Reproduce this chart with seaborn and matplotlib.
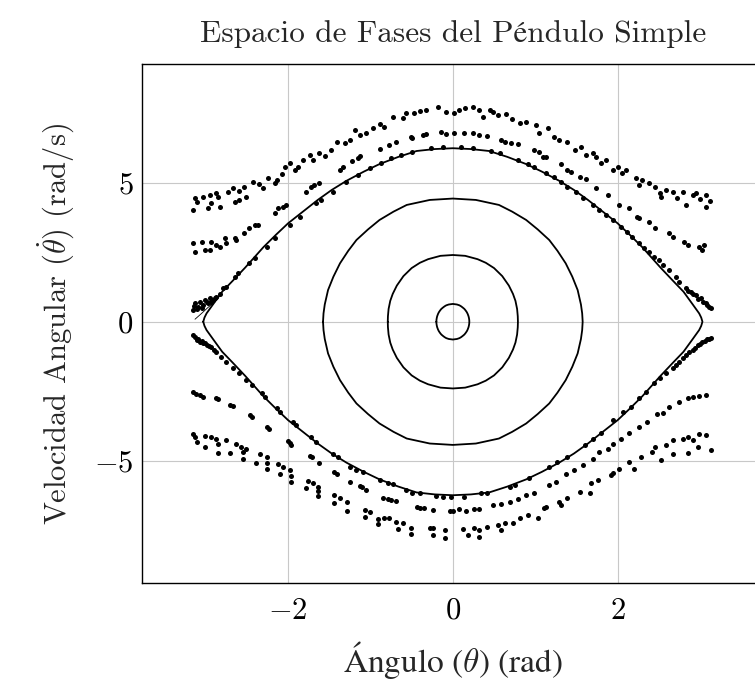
import matplotlib
matplotlib.use("Agg")
import matplotlib.pyplot as plt
import seaborn as sns
import pandas as pd

# ---------------- data ----------------
# closed (oscillating) orbits: quarter curves theta>=0, omega>=0 (orbits are symmetric)
orbit_small_theta = [0.0, 0.05, 0.08, 0.10, 0.12, 0.14, 0.155, 0.17, 0.18, 0.19, 0.195, 0.199, 0.20]
orbit_small_omega = [0.64, 0.62, 0.59, 0.555, 0.51, 0.46, 0.405, 0.34, 0.28, 0.20, 0.14, 0.065, 0.0]

orbit_mid_theta = [0.0, 0.15, 0.30, 0.40, 0.50, 0.60, 0.68, 0.73, 0.76, 0.78, 0.788, 0.79]
orbit_mid_omega = [2.40, 2.37, 2.25, 2.12, 1.93, 1.64, 1.30, 1.00, 0.75, 0.46, 0.20, 0.0]

orbit_large_theta = [0.0, 0.28, 0.56, 0.72, 0.89, 1.03, 1.17, 1.27, 1.37, 1.45, 1.515, 1.555, 1.57, 1.576]
orbit_large_omega = [4.43, 4.38, 4.20, 3.96, 3.66, 3.32, 2.94, 2.55, 2.10, 1.62, 1.14, 0.62, 0.30, 0.0]

orbit_outer_theta = [0.0, 0.22, 0.44, 0.66, 0.89, 1.08, 1.29, 1.47, 1.64, 1.82, 2.0, 2.15, 2.3, 2.52,
                     2.67, 2.8, 2.91, 2.99, 3.015, 3.03]
orbit_outer_omega = [6.24, 6.21, 6.14, 5.93, 5.67, 5.40, 5.07, 4.74, 4.38, 3.96, 3.54, 3.12, 2.68, 1.95,
                     1.48, 1.08, 0.63, 0.30, 0.15, 0.0]

tail_theta = [-3.13, -3.05, -2.97, -2.91, -2.85]
tail_omega = [0.09, 0.30, 0.52, 0.66, 0.85]

# rotating orbits (sampled points), upper half-plane
top_upper_theta = [-3.15, -3.13, -3.03, -2.95, -2.97, -2.93, -2.83, -2.85, -2.73, -2.67, -2.65, -2.59, -2.51,
                   -2.53, -2.42, -2.30, -2.24, -2.16, -2.14, -2.04, -1.98, -1.92, -1.82, -1.74, -1.70, -1.62,
                   -1.48, -1.41, -1.31, -1.19, -1.13, -0.97, -0.83, -0.73, -0.61, -0.57, -0.47, -0.32, -0.18,
                   -0.08, 0.02, 0.08, 0.24, 0.32, 0.36, 0.49, 0.55, 0.65, 0.81, 0.89, 1.01, 1.05, 1.23, 1.29,
                   1.39, 1.48, 1.62, 1.70, 1.74, 1.86, 1.94, 2.00, 2.10, 2.22, 2.26, 2.30, 2.38, 2.51, 2.53,
                   2.59, 2.67, 2.79, 2.83, 2.91, 2.95, 3.07, 3.07,
                   -3.10, -2.88, -2.60, -2.35, -2.08, -1.88, -1.55, -1.25, -1.05, -0.88, -0.40, 0.15, 0.45,
                   0.72, 1.15, 1.55, 1.80, 2.05, 2.45, 2.72, 3.00, 3.12]
top_upper_omega = [4.02, 4.44, 4.50, 4.56, 4.08, 4.26, 4.14, 4.50, 4.68, 4.80, 4.32, 4.38, 4.50,
                   4.86, 5.04, 4.80, 5.16, 4.98, 5.10, 5.58, 5.70, 5.46, 5.82, 6.00, 5.82, 6.06,
                   6.18, 6.48, 6.42, 6.90, 6.72, 6.96, 7.02, 7.38, 7.32, 7.50, 7.50, 7.62, 7.74,
                   7.56, 7.50, 7.62, 7.74, 7.62, 7.38, 7.56, 7.44, 7.47, 7.14, 7.20, 7.08, 6.78, 6.66, 6.54,
                   6.48, 6.18, 6.00, 6.06, 5.94, 5.82, 5.46, 5.58, 5.46, 5.16, 4.92, 5.10, 4.98, 4.62, 4.50,
                   4.74, 4.68, 4.68, 4.20, 4.56, 4.62, 4.56, 4.14,
                   4.30, 4.62, 4.70, 4.95, 5.30, 5.55, 5.95, 6.55, 6.80, 7.10, 7.58, 7.70, 7.62,
                   7.30, 6.95, 6.30, 5.70, 5.35, 4.85, 4.45, 4.40, 4.35]

mid_upper_theta = [-3.15, -3.13, -3.05, -3.01, -2.95, -2.93, -2.87, -2.83, -2.77, -2.75, -2.65, -2.63, -2.53,
                   -2.48, -2.40, -2.36, -2.16, -2.12, -2.06, -2.02, -1.78, -1.72, -1.68, -1.62, -1.37, -1.33,
                   -1.23, -1.15, -1.13, -0.89, -0.77, -0.69, -0.51, -0.49, -0.36, -0.32, -0.14, -0.08, 0.02,
                   0.14, 0.24, 0.32, 0.42, 0.59, 0.63, 0.71, 0.79, 0.99, 1.05, 1.09, 1.13, 1.31, 1.39, 1.43,
                   1.54, 1.62, 1.74, 1.88, 2.02, 2.14, 2.24, 2.26, 2.38, 2.46, 2.63, 2.67, 2.81, 2.85, 2.99,
                   3.05, 3.03]
mid_upper_omega = [2.82, 2.52, 2.88, 2.58, 2.58, 2.88, 2.76, 2.70, 3.00, 2.82, 3.00, 2.94, 3.18,
                   3.36, 3.48, 3.48, 3.90, 4.08, 4.14, 4.20, 4.68, 4.86, 4.92, 5.00, 5.46, 5.55,
                   5.79, 5.88, 5.96, 6.20, 6.36, 6.48, 6.66, 6.60, 6.72, 6.74, 6.84, 6.75, 6.78,
                   6.78, 6.80, 6.72, 6.69, 6.54, 6.48, 6.42, 6.39, 6.18, 6.12, 5.94, 5.94, 5.67, 5.46, 5.40,
                   5.19, 5.12, 4.80, 4.56, 4.20, 4.08, 3.78, 3.72, 3.60, 3.36, 3.18, 3.06, 2.88, 2.76, 2.70,
                   2.76, 2.58]

low_upper_theta = [-3.15, -3.13, -3.09, -3.07, -3.03, -3.01, -2.97, -2.95, -2.91, -2.87, -2.83,
                   -3.14, -3.11, -3.05, -2.99, -2.93, -2.89,
                   -2.79, -2.75, -2.65, -2.61, -2.47, -2.40, -2.26, -2.16, -1.98, -1.86, -1.66, -1.60,
                   -1.46, -1.30, -1.15, -1.01, -0.87, -0.75, -0.63, -0.49, -0.26, -0.12,
                   0.10, 0.24, 0.46, 0.57, 0.79, 0.91, 0.99, 1.13, 1.23, 1.31, 1.39, 1.49, 1.58, 1.70,
                   1.78, 1.86, 1.94, 2.04, 2.12, 2.18, 2.26, 2.32, 2.38, 2.44, 2.50, 2.55, 2.63, 2.71,
                   2.75, 2.83, 2.89, 2.95, 3.01, 3.07, 3.11,
                   2.98, 3.04, 3.09, 3.13, 2.92, 2.86]
low_upper_omega = [0.42, 0.66, 0.54, 0.72, 0.60, 0.78, 0.66, 0.84, 0.78, 0.90, 1.00,
                   0.55, 0.45, 0.50, 0.70, 0.72, 0.85,
                   1.20, 1.26, 1.62, 1.74, 2.10, 2.28, 2.70, 3.00, 3.48, 3.78, 4.26, 4.38,
                   4.68, 5.04, 5.28, 5.52, 5.70, 5.88, 6.00, 6.12, 6.24, 6.30,
                   6.30, 6.24, 6.14, 6.06, 5.82, 5.67, 5.55, 5.34, 5.19, 5.04, 4.86, 4.68, 4.44, 4.20,
                   4.02, 3.84, 3.66, 3.42, 3.24, 3.06, 2.82, 2.64, 2.52, 2.34, 2.22, 2.04, 1.86, 1.62,
                   1.44, 1.20, 1.08, 0.96, 0.84, 0.66, 0.54,
                   0.80, 0.72, 0.60, 0.50, 0.98, 1.12]

# rotating orbits, lower half-plane
low_lower_theta = [-3.15, -3.11, -3.07, -3.03, -2.99, -2.93, -2.87, -2.81, -2.75, -2.67, -2.59, -2.51,
                   -2.44, -2.32, -2.28, -2.14, -2.10, -1.94, -1.90, -1.72, -1.66, -1.46, -1.39, -1.25,
                   -1.17, -1.09, -0.89, -0.79, -0.73, -0.57, -0.49, -0.40, -0.20, -0.12, -0.02,
                   -3.13, -3.09, -3.05, -3.01, -2.96, -2.90,
                   0.14, 0.34, 0.42, 0.69, 0.75, 0.93, 1.17, 1.27, 1.39, 1.60, 1.70, 1.80, 1.94, 2.06,
                   2.16, 2.26, 2.34, 2.44, 2.51, 2.59, 2.67, 2.75, 2.83, 2.91, 2.97, 3.03, 3.09, 3.13,
                   2.87, 2.94, 3.00, 3.06, 3.11, 2.79, 2.71]
low_lower_omega = [-0.48, -0.66, -0.72, -0.78, -0.84, -0.92, -1.08, -1.26, -1.44, -1.68, -1.86, -2.10,
                   -2.28, -2.58, -2.72, -3.12, -3.24, -3.60, -3.72, -4.14, -4.32, -4.74, -4.86, -5.21,
                   -5.33, -5.39, -5.69, -5.81, -5.85, -6.05, -6.15, -6.17, -6.27, -6.29, -6.29,
                   -0.55, -0.62, -0.70, -0.76, -0.86, -1.00,
                   -6.29, -6.17, -6.15, -5.93, -5.87, -5.63, -5.21, -5.03, -4.86, -4.44, -4.20, -3.99,
                   -3.54, -3.24, -3.06, -2.76, -2.52, -2.22, -2.04, -1.86, -1.68, -1.44, -1.20, -1.01,
                   -0.84, -0.72, -0.63, -0.60,
                   -1.10, -0.95, -0.80, -0.70, -0.62, -1.30, -1.55]

mid_lower_theta = [-3.15, -3.07, -3.03, -2.85, -2.67, -2.46, -2.26, -2.00, -1.96, -1.74, -1.62, -1.44,
                   -1.25, -1.13, -1.05, -0.85, -0.79, -0.69, -0.43, -0.35, -0.24, -0.04, 0.08,
                   -3.12, -2.88, -2.70, -2.44, -2.23, -1.98, -1.71, -1.41, -1.10, -0.75, -0.40, 0.00,
                   0.16, 0.26, 0.32, 0.49, 0.59, 0.69, 0.79, 0.89, 0.99, 1.17, 1.25, 1.37, 1.47, 1.58,
                   1.70, 1.78, 1.88, 1.94, 2.04, 2.14, 2.26, 2.36, 2.48, 2.55, 2.63, 2.75, 2.85, 2.91,
                   2.99, 3.07]
mid_lower_omega = [-2.52, -2.64, -2.72, -2.79, -3.03, -3.36, -3.78, -4.28, -4.44, -4.82, -5.09, -5.42,
                   -5.75, -5.91, -6.05, -6.33, -6.38, -6.44, -6.68, -6.71, -6.77, -6.81, -6.75,
                   -2.60, -2.75, -2.98, -3.42, -3.84, -4.36, -4.88, -5.47, -5.96, -6.42, -6.70, -6.80,
                   -6.81, -6.75, -6.75, -6.59, -6.56, -6.50, -6.39, -6.23, -6.15, -5.87, -5.75, -5.48,
                   -5.33, -5.15, -4.95, -4.68, -4.59, -4.40, -4.20, -3.99, -3.80, -3.60, -3.32, -3.30,
                   -3.06, -2.88, -2.76, -2.72, -2.67, -2.64]

top_lower_theta = [-3.15, -3.13, -3.11, -3.01, -3.01, -2.93, -2.87, -2.85, -2.85, -2.75, -2.71, -2.63,
                   -2.57, -2.55, -2.55, -2.51, -2.39, -2.34, -2.26, -2.26, -2.26, -2.12, -2.10, -2.06,
                   -1.98, -1.96, -1.96, -1.78, -1.76, -1.70, -1.64, -1.64, -1.64, -1.44, -1.44, -1.37,
                   -1.29, -1.29, -1.07, -1.07, -1.01, -0.91, -0.91, -0.83, -0.77, -0.69, -0.67, -0.61,
                   -0.51, -0.51, -0.28, -0.24, -0.24, -0.10, -0.10,
                   0.12, 0.18, 0.26, 0.32, 0.32, 0.42, 0.55, 0.59, 0.63, 0.73, 0.81, 0.91, 1.03, 1.11,
                   1.13, 1.29, 1.31, 1.39, 1.54, 1.66, 1.68, 1.76, 1.92, 1.94, 2.02, 2.14, 2.20, 2.28,
                   2.42, 2.46, 2.53, 2.59, 2.67, 2.67, 2.79, 2.85, 2.85, 2.91, 2.97, 2.99, 3.07, 3.13]
top_lower_omega = [-4.02, -4.14, -4.32, -4.11, -4.50, -4.14, -4.20, -4.38, -4.71, -4.26, -4.71, -4.38,
                   -4.52, -4.68, -4.95, -4.56, -5.07, -4.74, -4.86, -5.09, -5.31, -5.12, -5.48, -5.21,
                   -5.33, -5.54, -5.78, -5.99, -5.72, -5.81, -5.93, -6.09, -6.27, -6.23, -6.53, -6.35,
                   -6.47, -6.81, -6.77, -7.04, -6.83, -7.11, -7.28, -7.07, -7.07, -7.19, -7.46, -7.25,
                   -7.43, -7.64, -7.43, -7.43, -7.67, -7.49, -7.79,
                   -7.47, -7.67, -7.43, -7.49, -7.73, -7.37, -7.31, -7.49, -7.23, -7.25, -7.07, -6.95,
                   -7.07, -6.71, -6.65, -6.47, -6.59, -6.35, -6.11, -6.15, -5.81, -5.69, -5.51, -5.45,
                   -5.31, -5.03, -5.31, -4.86, -4.68, -4.50, -4.97, -4.44, -4.74, -4.26, -4.20, -4.14,
                   -4.71, -4.26, -4.52, -4.04, -4.08, -4.62]

x_ticks = [-2, 0, 2]
y_ticks = [-5, 0, 5]
title_text = "Espacio de Fases del Péndulo Simple"
x_label = r"Ángulo ($\theta$) (rad)"
y_label = r"Velocidad Angular ($\dot{\theta}$) (rad/s)"


def closed_loop(q_theta, q_omega):
    """Build a closed orbit from its first-quadrant quarter using the pendulum's symmetry."""
    th_up = [-t for t in q_theta[::-1]] + q_theta[1:]
    om_up = q_omega[::-1] + q_omega[1:]
    th = th_up + th_up[::-1][1:]
    om = om_up + [-w for w in om_up[::-1]][1:]
    return th, om


# ---------------- style ----------------
sns.set_theme(style="whitegrid")
plt.rcParams["font.family"] = ["cmr10", "STIXGeneral", "DejaVu Serif"]
plt.rcParams["mathtext.fontset"] = "cm"
plt.rcParams["axes.formatter.use_mathtext"] = True
plt.rcParams["axes.unicode_minus"] = True

fig = plt.figure(figsize=(7.55, 6.82), dpi=100)
ax = fig.add_axes([0.1877, 0.1446, 0.8242, 0.7616])

orbit_rows = []
for name, qt, qo in [("a", orbit_small_theta, orbit_small_omega),
                     ("b", orbit_mid_theta, orbit_mid_omega),
                     ("c", orbit_large_theta, orbit_large_omega),
                     ("d", orbit_outer_theta, orbit_outer_omega)]:
    th, om = closed_loop(qt, qo)
    for i, (t, w) in enumerate(zip(th, om)):
        orbit_rows.append({"theta": t, "omega": w, "orbit": name, "step": i})
df_orbits = pd.DataFrame(orbit_rows)

sns.lineplot(data=df_orbits, x="theta", y="omega", units="orbit", estimator=None, sort=False,
             color="black", linewidth=1.3, ax=ax, legend=False)
sns.lineplot(x=tail_theta, y=tail_omega, sort=False, estimator=None, color="black",
             linewidth=0.6, ax=ax, legend=False)

bands = [("top_up", top_upper_theta, top_upper_omega),
         ("mid_up", mid_upper_theta, mid_upper_omega),
         ("low_up", low_upper_theta, low_upper_omega),
         ("low_lo", low_lower_theta, low_lower_omega),
         ("mid_lo", mid_lower_theta, mid_lower_omega),
         ("top_lo", top_lower_theta, top_lower_omega)]
dot_frames = [pd.DataFrame({"theta": t, "omega": w, "band": b}) for b, t, w in bands]
df_dots = pd.concat(dot_frames, ignore_index=True)
sns.scatterplot(data=df_dots, x="theta", y="omega", color="black", s=13, linewidth=0,
                ax=ax, legend=False, zorder=3)

ax.set_xlim(-3.777, 3.777)
ax.set_ylim(-9.41, 9.27)
ax.set_xticks(x_ticks)
ax.set_yticks(y_ticks)
ax.grid(True, color="#c8c8c8", linewidth=0.8)
ax.set_facecolor("white")
for sp in ax.spines.values():
    sp.set_color("black")
    sp.set_linewidth(1.0)
ax.tick_params(axis="both", which="both", direction="in", length=6, width=0.9,
               color="#aaaaaa", labelsize=22, labelcolor="black")
ax.tick_params(axis="x", pad=10)
ax.tick_params(axis="y", pad=6)

ax.set_title(title_text, fontsize=22.5, pad=16)
ax.set_xlabel(x_label, fontsize=24, labelpad=10, family=["STIXGeneral", "DejaVu Serif"])
ax.set_ylabel(y_label, fontsize=22, labelpad=12)

fig.savefig("out.png", dpi=100)
